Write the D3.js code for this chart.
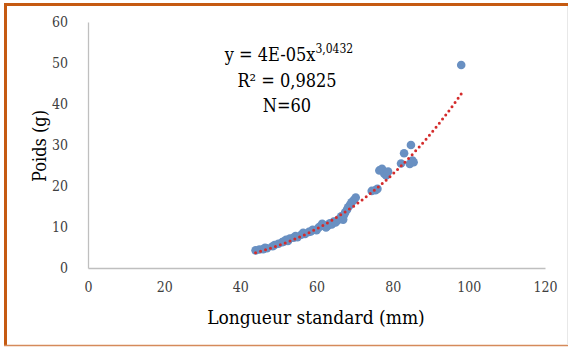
<!DOCTYPE html>
<html><head><meta charset="utf-8">
<script src="https://cdn.jsdelivr.net/npm/d3@7"></script>
<style>html,body{margin:0;padding:0;background:#fff;}svg{display:block;}
text{font-family:"DejaVu Serif Condensed","DejaVu Serif",serif;font-stretch:condensed;}</style>
</head><body>
<script>
const lengths = [44,45,46,46.5,47,48.5,49,50,51,51.5,52,52.5,53,54,54.5,55,56,56.5,57,58,58.5,59,60,60.5,61,61.5,62,62.5,63,63.5,64,64.5,65,65.5,66,66.5,67,67.2,67.5,68,68.3,68.8,69.2,69.8,70.3,74.5,75.5,76,76.5,77.2,77.8,78.3,78.8,82.2,83,84.5,84.8,85.2,85.5,98];
const weights = [4.3,4.5,4.6,4.9,4.8,5.3,5.6,5.9,6.3,6.5,6.9,6.6,7.2,7.4,7.8,7.5,8.1,8.6,8.3,8.8,8.9,9.3,9.2,9.8,10.2,10.8,10.4,9.9,10.3,10.9,10.6,11.3,11.1,11.6,12.0,12.6,11.8,12.9,13.5,14.2,14.8,15.4,16.0,16.6,17.2,18.8,19.0,19.3,23.8,24.2,23.0,22.6,23.5,25.5,28.0,25.4,30.0,26.2,25.8,49.5];
const xTicks = [0,20,40,60,80,100,120];
const yTicks = [0,10,20,30,40,50,60];
const trendA = 3.7e-5, trendB = 3.0432;
const trendRange = [44,98];

const W=568,H=347;
const svg=d3.select("body").append("svg").attr("width",W).attr("height",H);
svg.append("rect").attr("width",W).attr("height",H).attr("fill","#fff");

const x=d3.scaleLinear().domain([0,120]).range([88,545]);
const y=d3.scaleLinear().domain([0,60]).range([268,22]);

const xa=svg.append("g").attr("transform",`translate(0,${y(0)})`)
  .call(d3.axisBottom(x).tickValues(xTicks).tickSize(0).tickPadding(14));
const ya=svg.append("g").attr("transform",`translate(${x(0)},0)`)
  .call(d3.axisLeft(y).tickValues(yTicks).tickSize(0).tickPadding(20));
[xa,ya].forEach(g=>{
  g.attr("font-family",null);
  g.select(".domain").attr("stroke","#bfbfbf").attr("stroke-width",1.3);
  g.selectAll("text").attr("font-size",14).attr("fill","#404040");
});

const tp=d3.range(trendRange[0],trendRange[1]+0.01,0.25).map(v=>[v,trendA*Math.pow(v,trendB)]);
svg.append("g").selectAll("circle").data(lengths.map((l,i)=>[l,weights[i]])).join("circle")
  .attr("cx",d=>x(d[0])).attr("cy",d=>y(d[1])).attr("r",4.3).attr("fill","#6990c2");
svg.append("path").datum(tp)
  .attr("d",d3.line().x(d=>x(d[0])).y(d=>y(d[1])))
  .attr("fill","none").attr("stroke","#d42b2b").attr("stroke-width",3)
  .attr("stroke-linecap","round").attr("stroke-dasharray","0,5.2");

const eq=svg.append("g").attr("fill","#000").attr("font-size",18).attr("text-anchor","middle");
const t1=eq.append("text").attr("x",289).attr("y",61);
t1.append("tspan").text("y = 4E-05x");
t1.append("tspan").attr("font-size",12).attr("dy",-8).text("3,0432");
eq.append("text").attr("x",287).attr("y",87).text("R² = 0,9825");
eq.append("text").attr("x",287).attr("y",112).text("N=60");

svg.append("text").attr("x",316).attr("y",324).attr("text-anchor","middle")
  .attr("font-size",19).text("Longueur standard (mm)");
svg.append("text").attr("transform","translate(46,146) rotate(-90)").attr("text-anchor","middle")
  .attr("font-size",18).text("Poids (g)");

svg.append("line").attr("x1",4).attr("x2",W).attr("y1",4.5).attr("y2",4.5).attr("stroke","#c55a11").attr("stroke-width",3);
svg.append("line").attr("x1",5.5).attr("x2",5.5).attr("y1",3).attr("y2",346).attr("stroke","#c55a11").attr("stroke-width",3);
svg.append("line").attr("x1",4).attr("x2",W).attr("y1",345.5).attr("y2",345.5).attr("stroke","#d58a5a").attr("stroke-width",1.5);
svg.append("line").attr("x1",567.5).attr("x2",567.5).attr("y1",6).attr("y2",345).attr("stroke","#e8e8e8").attr("stroke-width",1);
</script>
</body></html>
